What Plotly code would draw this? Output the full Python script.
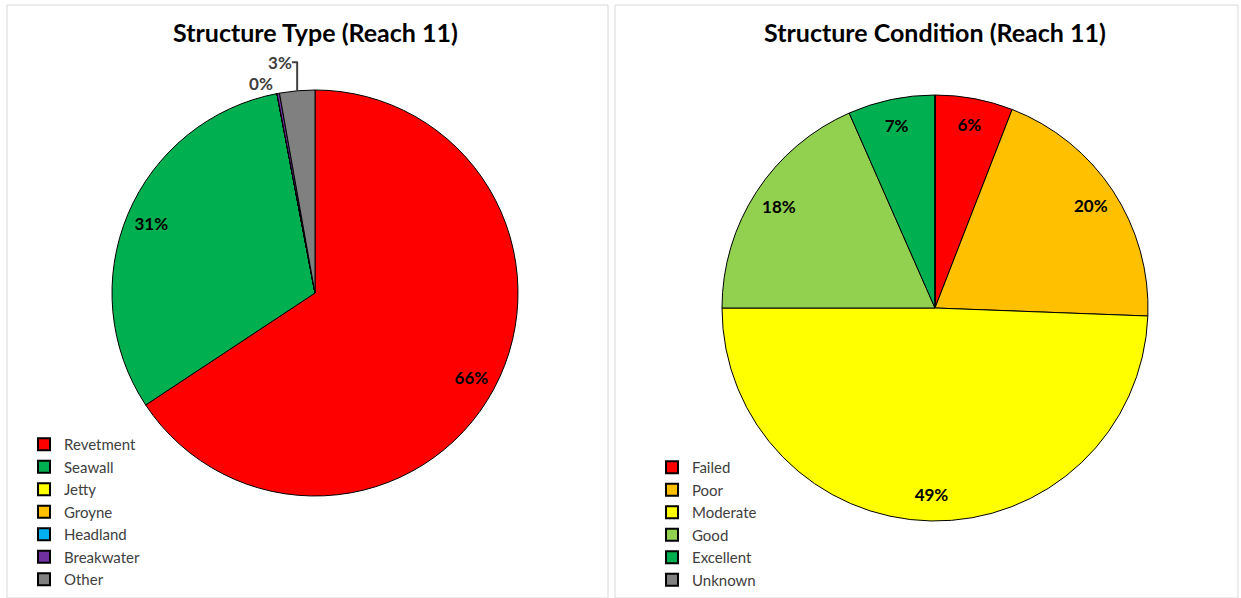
import plotly.graph_objects as go

# Structure type (Reach 11), percent of total
type_labels = ['Revetment', 'Seawall', 'Jetty', 'Groyne', 'Headland', 'Breakwater', 'Other']
type_values = [65.7, 31.3, 0, 0, 0, 0.2, 2.8]
type_colors = ['#FF0000', '#00B050', '#FFFF00', '#FFC000', '#00B0F0', '#7030A0', '#808080']

# Structure condition (Reach 11), percent of total
cond_labels = ['Failed', 'Poor', 'Moderate', 'Good', 'Excellent', 'Unknown']
cond_values = [5.9, 19.7, 49.4, 18.4, 6.6, 0]
cond_colors = ['#FF0000', '#FFC000', '#FFFF00', '#92D050', '#00B050', '#808080']

W, H = 1241, 598
FONT = 'Lato, Open Sans, sans-serif'


def px(x0, x1):
    return [x0 / W, x1 / W]


def py(top, bottom):
    return [1 - bottom / H, 1 - top / H]


def add_pie(labels, values, colors, domain, positions, legend):
    # coloured pie with outlines, no text
    fig.add_trace(go.Pie(
        labels=labels, values=values,
        marker=dict(colors=colors, line=dict(color='black', width=1)),
        sort=False, direction='clockwise', rotation=0,
        domain=domain, textinfo='none',
        showlegend=True, legend=legend,
        hoverinfo='label+percent',
    ))
    # transparent ring on top that carries the percentage labels near the rim
    fig.add_trace(go.Pie(
        labels=labels, values=values, hole=0.75,
        marker=dict(colors=['rgba(0,0,0,0)'] * len(labels), line=dict(width=0)),
        sort=False, direction='clockwise', rotation=0,
        domain=domain,
        texttemplate='%{percent:.0%}',
        textposition=positions,
        insidetextorientation='horizontal',
        textfont=dict(family=FONT, size=17, color='black', weight='bold'),
        outsidetextfont=dict(family=FONT, size=17, color='#404040', weight='bold'),
        showlegend=False, hoverinfo='skip',
    ))


fig = go.Figure()

add_pie(type_labels, type_values, type_colors,
        dict(x=px(112, 518), y=py(90, 496)),
        ['inside', 'inside', 'none', 'none', 'none', 'outside', 'outside'], 'legend')
add_pie(cond_labels, cond_values, cond_colors,
        dict(x=px(722, 1148), y=py(95, 521)),
        ['inside'] * 5 + ['none'], 'legend2')

legend_style = dict(
    font=dict(family=FONT, size=15, color='#404040'),
    bgcolor='rgba(0,0,0,0)', tracegroupgap=0, itemsizing='constant',
    xanchor='left', yanchor='bottom',
)

fig.update_layout(
    width=W, height=H,
    margin=dict(l=0, r=0, t=0, b=0),
    paper_bgcolor='white', plot_bgcolor='white',
    font=dict(family=FONT),
    legend=dict(x=24 / W, y=1 - 596 / H, **legend_style),
    legend2=dict(x=652 / W, y=1 - 596 / H, **legend_style),
    annotations=[
        dict(text='Structure Type (Reach 11)', x=315 / W, y=1 - 32 / H,
             xref='paper', yref='paper', showarrow=False,
             xanchor='center', yanchor='middle',
             font=dict(family=FONT, size=25, color='black', weight='bold')),
        dict(text='Structure Condition (Reach 11)', x=935 / W, y=1 - 32 / H,
             xref='paper', yref='paper', showarrow=False,
             xanchor='center', yanchor='middle',
             font=dict(family=FONT, size=25, color='black', weight='bold')),
    ],
    shapes=[
        dict(type='rect', xref='paper', yref='paper',
             x0=7 / W, x1=608 / W, y0=0, y1=1 - 5 / H,
             line=dict(color='#D9D9D9', width=1)),
        dict(type='rect', xref='paper', yref='paper',
             x0=615 / W, x1=1238 / W, y0=0, y1=1 - 5 / H,
             line=dict(color='#D9D9D9', width=1)),
    ],
)

fig.write_html('out.html', config={'displayModeBar': False},
               post_script="document.body.style.margin='0';")
